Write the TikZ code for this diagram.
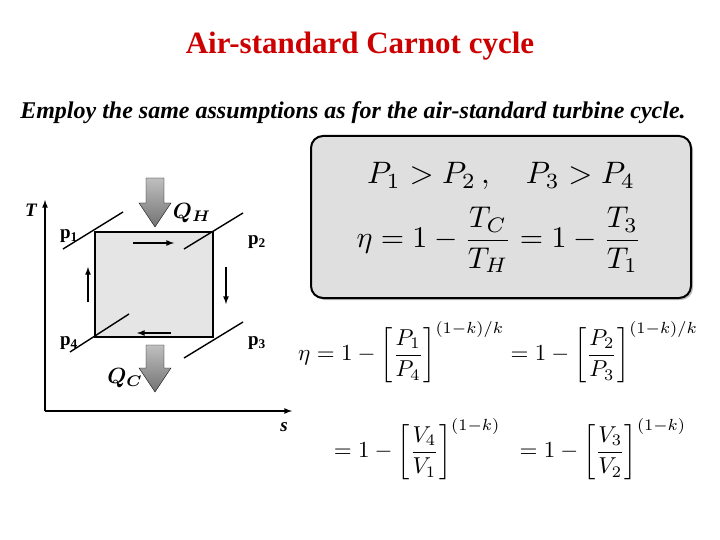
\documentclass[tikz,border=0pt]{standalone}
\usepackage{amsmath}
\usepackage{fontspec}
\setmainfont{Liberation Serif}
\usepackage{xcolor}
\usetikzlibrary{shadows}

\tikzset{
  isobar/.style={black, line width=1.4pt},
  flow/.style={-latex, line width=1.6pt},
  heat/.style={draw=black, top color=gray!50, bottom color=gray!90!black},
  lab/.style={font=\fontsize{19}{20}\selectfont\bfseries},
  bigmath/.style={scale=#1, transform shape}
}

\begin{document}
\begin{tikzpicture}[x=1pt,y=-1pt]
\useasboundingbox (0,0) rectangle (720,540);

\node (title) at (360,46) [text=red!80!black, font=\fontsize{31}{33}\selectfont\bfseries]{Air-standard Carnot cycle};
\node (sub) at (353,113) [font=\fontsize{24}{26}\selectfont\bfseries\itshape]{Employ the same assumptions as for the air-standard turbine cycle.};

% axes
\coordinate (o) at (45,411);
\coordinate (ttop) at (45,200);
\coordinate (sright) at (292,411);
\draw[-latex, line width=1.6pt] (o) -- (ttop);
\draw[-latex, line width=1.6pt] (o) -- (sright);
\node (T) at (31,210) [lab, font=\fontsize{19}{20}\selectfont\bfseries\itshape]{T};
\node (s) at (284,427) [lab, font=\fontsize{19}{20}\selectfont\bfseries\itshape]{s};

% cycle
\node (n1) at (95,232) [inner sep=0pt]{};
\node (n2) at (213,232) [inner sep=0pt]{};
\node (n3) at (213,337) [inner sep=0pt]{};
\node (n4) at (95,337) [inner sep=0pt]{};
\draw[line width=1.8pt, fill=gray!20] (n1.center) -- (n2.center) -- (n3.center) -- (n4.center) -- cycle;

% isobars
\coordinate (a1) at (63,249); \coordinate (b1) at (123,212);
\coordinate (a2) at (184,249); \coordinate (b2) at (243,213);
\coordinate (a3) at (184,358); \coordinate (b3) at (243,322);
\coordinate (a4) at (70,352); \coordinate (b4) at (129,314);
\draw[isobar] (a1) -- (b1);
\draw[isobar] (a2) -- (b2);
\draw[isobar] (a3) -- (b3);
\draw[isobar] (a4) -- (b4);

% direction arrows
\coordinate (t1) at (133,243); \coordinate (t2) at (174,243);
\coordinate (r1) at (226,267); \coordinate (r2) at (226,304);
\coordinate (d1) at (171,333); \coordinate (d2) at (137,333);
\coordinate (l1) at (88,302); \coordinate (l2) at (88,267);
\draw[flow] (t1) -- (t2);
\draw[flow] (r1) -- (r2);
\draw[flow] (d1) -- (d2);
\draw[flow] (l1) -- (l2);

% heat arrows
\draw[heat] (146,178) -- (164,178) -- (164,203) -- (171,203) -- (155,227) -- (139,203) -- (146,203) -- cycle;
\draw[heat] (146,345) -- (164,345) -- (164,368) -- (171,368) -- (155,392) -- (139,368) -- (146,368) -- cycle;
\node (QH) at (192,213) [bigmath=2.2]{$\boldsymbol{Q_H}$};
\node (QC) at (125,378) [bigmath=2.2]{$\boldsymbol{Q_C}$};

\node (p1) at (69,236) [lab]{p\textsubscript{1}};
\node (p2) at (257,242) [lab]{p\textsubscript{2}};
\node (p3) at (257,343) [lab]{p\textsubscript{3}};
\node (p4) at (69,343) [lab]{p\textsubscript{4}};

% box with relations
\node (box) at (501,217) [draw, line width=2pt, rounded corners=12pt, fill=gray!25, drop shadow={shadow xshift=2pt, shadow yshift=-2pt},
  minimum width=380pt, minimum height=162pt]{};
\node (rel) at (501,176) [bigmath=3.1]{$P_1 > P_2\,,\quad P_3 > P_4$};
\node (eta) at (499,240) [bigmath=3.0]{$\eta = 1 - \dfrac{T_C}{T_H} = 1 - \dfrac{T_3}{T_1}$};

% efficiency in pressures and volumes
\node (ep) at (498,352) [bigmath=2.3]{$\eta = 1 - \left[\dfrac{P_1}{P_4}\right]^{(1-k)/k} = 1 - \left[\dfrac{P_2}{P_3}\right]^{(1-k)/k}$};
\node (ev) at (510,449) [bigmath=2.3]{$= 1 - \left[\dfrac{V_4}{V_1}\right]^{(1-k)} \;\; = 1 - \left[\dfrac{V_3}{V_2}\right]^{(1-k)}$};
\end{tikzpicture}
\end{document}
